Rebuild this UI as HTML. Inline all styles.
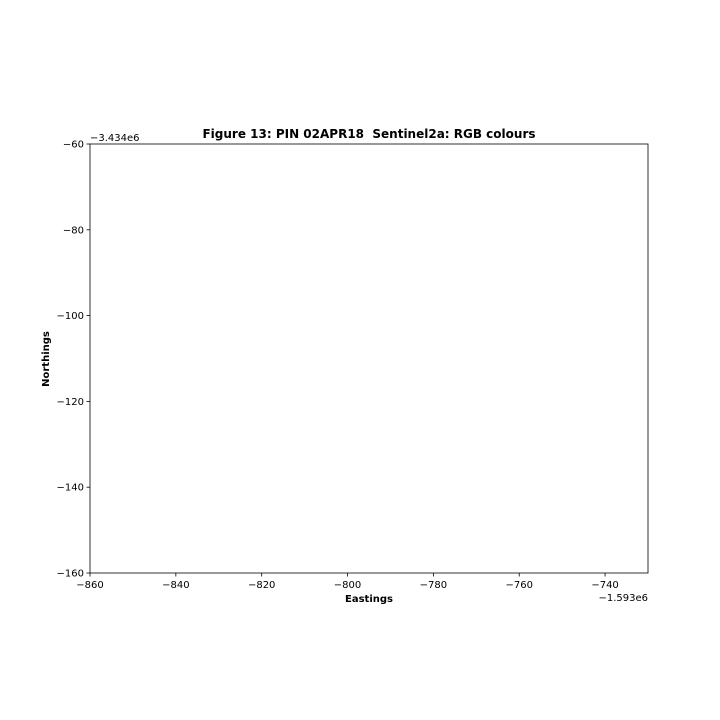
<!DOCTYPE html>
<html><head><meta charset="utf-8">
<style>
html,body{margin:0;padding:0;background:#fff;}
svg{display:block;font-family:"DejaVu Sans","Liberation Sans",sans-serif;}
text{white-space:pre;}
</style></head>
<body>
<svg id="chart" width="720" height="720" viewBox="0 0 720 720">
<rect x="0" y="0" width="720" height="720" fill="#fff"/>
<text x="369" y="138" text-anchor="middle" font-size="12" font-weight="bold" xml:space="preserve">Figure 13: PIN 02APR18  Sentinel2a: RGB colours</text>
<g id="axes"></g>
<text x="369" y="602" text-anchor="middle" font-size="10" font-weight="bold">Eastings</text>
<text transform="translate(49,359) rotate(-90)" text-anchor="middle" font-size="10" font-weight="bold">Northings</text>
<text x="648" y="601" text-anchor="end" font-size="10">−1.593e6</text>
<text x="90" y="141" text-anchor="start" font-size="10">−3.434e6</text>
</svg>
<script>
const xTicks = [-860, -840, -820, -800, -780, -760, -740];
const yTicks = [-60, -80, -100, -120, -140, -160];
const xDomain = [-860, -730];
const yDomain = [-160, -60];

const L = 90, R = 648, T = 144, B = 573;
function xs(v){ return L + (v - xDomain[0]) / (xDomain[1] - xDomain[0]) * (R - L); }
function ys(v){ return B - (v - yDomain[0]) / (yDomain[1] - yDomain[0]) * (B - T); }
const NS = "http://www.w3.org/2000/svg";
const g = document.getElementById('axes');
function mk(tag, attrs){ const e = document.createElementNS(NS, tag); for (const k in attrs) e.setAttribute(k, attrs[k]); g.appendChild(e); return e; }
function fmt(v){ return v < 0 ? '\u2212' + Math.abs(v) : String(v); }

const frame = mk('rect', {x:L, y:T, width:R-L, height:B-T, fill:'none', stroke:'#000', 'stroke-width':0.8});



xTicks.forEach(v => {
  const x = xs(v);
  const t = mk('line', {x1:x, x2:x, y1:B, y2:B+3.5, stroke:'#000', 'stroke-width':0.8});
  
  
  const l = mk('text', {x:x, y:B+15, 'text-anchor':'middle', 'font-size':10});
  l.textContent = fmt(v);
  
  
});
yTicks.forEach(v => {
  const y = ys(v);
  const t = mk('line', {x1:L-3.5, x2:L, y1:y, y2:y, stroke:'#000', 'stroke-width':0.8});
  
  
  const l = mk('text', {x:L-6, y:y+3.5, 'text-anchor':'end', 'font-size':10});
  l.textContent = fmt(v);
  
  
});
</script>
</body></html>
